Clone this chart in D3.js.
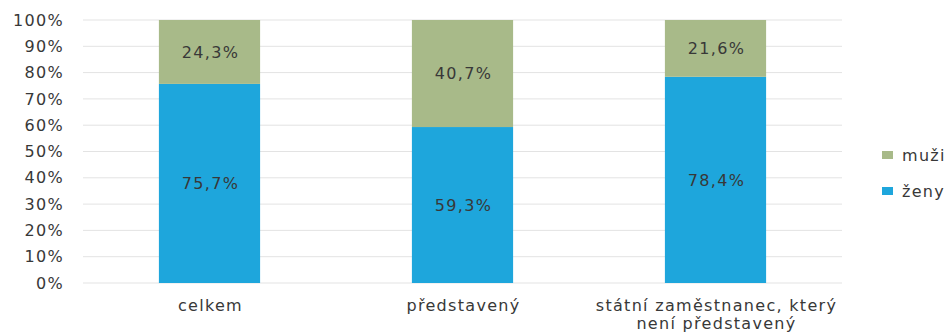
<!DOCTYPE html>
<html><head><meta charset="utf-8">
<script src="https://cdn.jsdelivr.net/npm/d3@7"></script>
<style>body{margin:0;background:#fff}svg{display:block}text{font-family:"DejaVu Sans",sans-serif;letter-spacing:1.3px}</style>
</head><body><svg id="c" width="951" height="333"></svg>
<script>
const categories = [["celkem"], ["představený"], ["státní zaměstnanec, který", "není představený"]];
const zeny = [75.7, 59.3, 78.4];
const muzi = [24.3, 40.7, 21.6];
const yTicks = [0,10,20,30,40,50,60,70,80,90,100];
const seriesNames = ["muži", "ženy"];
const colors = {"ženy": "#1ea6dc", "muži": "#a8ba89"};

const svg = d3.select("#c");
const m = {l: 83, r: 109, t: 20, b: 50};
const W = 951, H = 333;
const FS = 16, TXT = "#383838";
const x = d3.scaleBand().domain(d3.range(categories.length)).range([m.l, W - m.r]).paddingInner(0.6).paddingOuter(0.3);
const y = d3.scaleLinear().domain([0, 100]).range([H - m.b, m.t]);

// grid
svg.append("g").selectAll("line").data(yTicks).join("line")
  .attr("x1", m.l).attr("x2", W - m.r)
  .attr("y1", d => y(d)).attr("y2", d => y(d))
  .attr("stroke", "#e3e3e3").attr("stroke-width", 1);

// y axis labels
const ya = svg.append("g").attr("transform", `translate(${m.l - 19},0)`)
  .call(d3.axisLeft(y).tickValues(yTicks).tickFormat(d => d + "%").tickSize(0).tickPadding(0));
ya.select(".domain").remove();
ya.selectAll("text").attr("font-size", FS).attr("fill", TXT)
  .style("font-family", '"DejaVu Sans",sans-serif').style("letter-spacing", "1.3px");

// bars
const stackData = categories.map((c, i) => ({i, "ženy": zeny[i], "muži": muzi[i]}));
const stack = d3.stack().keys(["ženy", "muži"])(stackData);
const g = svg.append("g");
stack.forEach(s => {
  g.selectAll(null).data(s).join("rect")
    .attr("x", d => x(d.data.i)).attr("width", x.bandwidth())
    .attr("y", d => y(d[1])).attr("height", d => y(d[0]) - y(d[1]))
    .attr("fill", colors[s.key]);
  g.selectAll(null).data(s).join("text")
    .attr("x", d => x(d.data.i) + x.bandwidth() / 2 + 1)
    .attr("y", d => (y(d[0]) + y(d[1])) / 2)
    .attr("dy", "0.35em").attr("text-anchor", "middle")
    .attr("font-size", FS).attr("fill", TXT)
    .text(d => (d[1] - d[0]).toFixed(1).replace(".", ",") + "%");
});

// x labels
const xl = svg.append("g");
categories.forEach((lines, i) => {
  const cx = x(i) + x.bandwidth() / 2 + 1;
  const t = xl.append("text").attr("text-anchor", "middle")
    .attr("x", cx).attr("y", H - m.b + 28)
    .attr("font-size", FS).attr("fill", TXT);
  lines.forEach((l, j) => t.append("tspan").attr("x", cx).attr("dy", j ? 18 : 0).text(l));
});

// legend
const lg = svg.append("g").attr("transform", "translate(882,155)");
seriesNames.forEach((n, j) => {
  lg.append("rect").attr("x", 0).attr("y", j * 36 - 4).attr("width", 11).attr("height", 8).attr("fill", colors[n]);
  lg.append("text").attr("x", 20).attr("y", j * 36).attr("dy", "0.35em").attr("font-size", FS).attr("fill", TXT).text(n);
});
</script></body></html>
